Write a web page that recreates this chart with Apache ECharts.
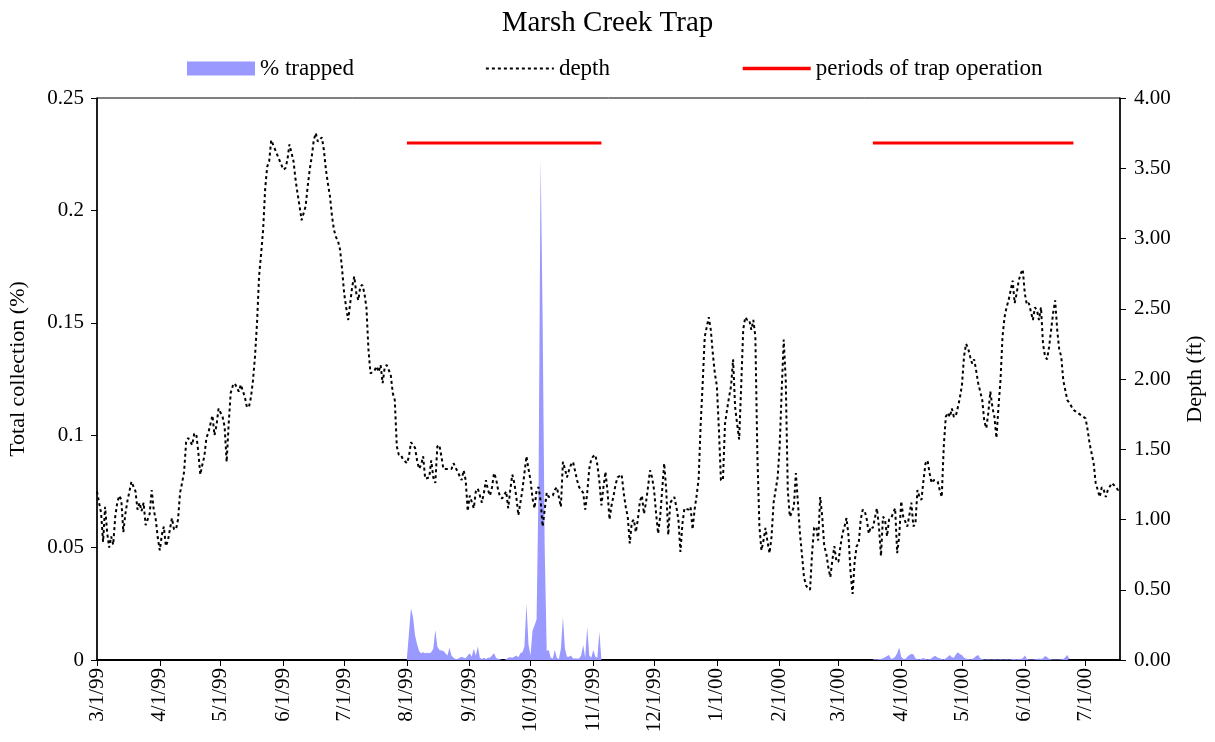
<!DOCTYPE html>
<html>
<head>
<meta charset="utf-8">
<title>Marsh Creek Trap</title>
<script src="https://cdn.jsdelivr.net/npm/echarts@6/dist/echarts.min.js"></script>
<style>
  html, body { margin: 0; padding: 0; background: #fff; }
  #chart { width: 1215px; height: 742px; }
</style>
</head>
<body>
<div id="chart"></div>
<script>
// Day counts below are days after 1 March 1999.
const START = Date.UTC(1999, 2, 1);
const DAY = 86400000;
const END_DAY = 505;

// Month-start tick positions on the date axis
const monthTicks = [
  '1999-03-01', '1999-04-01', '1999-05-01', '1999-06-01', '1999-07-01', '1999-08-01',
  '1999-09-01', '1999-10-01', '1999-11-01', '1999-12-01', '2000-01-01', '2000-02-01',
  '2000-03-01', '2000-04-01', '2000-05-01', '2000-06-01', '2000-07-01'
];

// Water depth (ft): [day, depth]
const depthReadings = [
  [0,1.20],[1,1.12],[2,1.05],[3,0.84],[4,1.09],[5,0.91],[6,0.80],[7,0.88],[8,0.82],[9,1.02],
  [10,1.12],[11,1.17],[12,1.14],[13,0.91],[14,1.04],[15,1.13],[17,1.27],[19,1.20],[20,1.07],
  [21,1.12],[22,1.06],[23,1.12],[24,0.96],[26,1.04],[27,1.21],[28,1.07],[29,1.00],[30,0.87],
  [31,0.78],[32,0.89],[33,0.95],[34,0.81],[35,0.85],[36,0.93],[37,1.01],[38,0.93],[39,0.93],
  [40,1.00],[41,1.19],[42,1.26],[43,1.34],[44,1.55],[45,1.58],[47,1.53],[48,1.61],[49,1.61],
  [50,1.48],[51,1.32],[52,1.39],[53,1.45],[54,1.58],[55,1.62],[56,1.68],[57,1.74],[58,1.60],
  [59,1.67],[60,1.79],[62,1.73],[63,1.66],[64,1.41],[65,1.68],[66,1.90],[67,1.95],[68,1.97],
  [70,1.91],[71,1.96],[73,1.87],[74,1.80],[75,1.80],[76,1.87],[77,1.99],[78,2.16],[79,2.40],
  [80,2.73],[81,2.89],[82,3.06],[83,3.35],[84,3.51],[85,3.55],[86,3.70],[92,3.49],[93,3.50],
  [94,3.56],[95,3.67],[96,3.61],[97,3.55],[98,3.42],[99,3.32],[100,3.23],[101,3.13],[103,3.23],
  [104,3.37],[105,3.49],[106,3.58],[107,3.70],[108,3.75],[109,3.69],[111,3.72],[112,3.63],
  [113,3.49],[114,3.39],[115,3.30],[116,3.16],[117,3.06],[118,3.01],[119,2.98],[120,2.92],
  [121,2.78],[122,2.61],[123,2.51],[124,2.42],[125,2.54],[126,2.66],[127,2.73],[128,2.61],
  [129,2.56],[130,2.66],[131,2.67],[132,2.61],[133,2.51],[134,2.21],[135,2.04],[137,2.06],
  [138,2.09],[139,2.05],[140,2.10],[141,1.97],[142,2.08],[143,2.10],[145,2.03],[146,1.90],
  [147,1.85],[148,1.52],[149,1.46],[150,1.46],[151,1.43],[153,1.40],[154,1.45],[155,1.55],
  [157,1.51],[158,1.42],[159,1.36],[160,1.39],[161,1.45],[162,1.29],[164,1.30],[165,1.42],
  [166,1.30],[167,1.26],[168,1.52],[169,1.53],[170,1.45],[171,1.36],[173,1.36],[175,1.36],
  [176,1.40],[178,1.34],[180,1.28],[181,1.35],[182,1.28],[183,1.06],[184,1.17],[186,1.08],
  [187,1.20],[188,1.22],[190,1.12],[191,1.19],[192,1.28],[193,1.21],[194,1.17],[195,1.23],
  [196,1.33],[197,1.29],[198,1.21],[199,1.16],[200,1.15],[202,1.20],[203,1.08],[204,1.21],
  [205,1.32],[206,1.26],[207,1.16],[208,1.03],[209,1.12],[210,1.21],[212,1.45],[213,1.36],
  [214,1.28],[215,1.15],[216,1.08],[217,1.21],[218,1.23],[219,1.13],[220,0.95],[221,1.07],
  [222,1.19],[223,1.16],[225,1.17],[226,1.21],[227,1.23],[228,1.16],[229,1.09],[230,1.41],
  [231,1.36],[232,1.30],[233,1.35],[234,1.39],[235,1.41],[237,1.28],[238,1.23],[240,1.19],
  [241,1.07],[242,1.19],[243,1.36],[244,1.43],[245,1.45],[246,1.46],[247,1.39],[248,1.27],
  [249,1.10],[250,1.23],[251,1.34],[252,1.20],[253,1.00],[254,1.10],[255,1.17],[256,1.25],
  [257,1.30],[259,1.32],[260,1.19],[261,1.09],[262,1.02],[263,0.83],[264,0.98],[265,1.00],
  [266,0.91],[267,1.00],[268,1.13],[269,1.17],[270,1.04],[271,1.12],[272,1.23],[273,1.35],
  [274,1.30],[275,1.21],[276,1.04],[277,0.90],[278,1.02],[279,1.21],[280,1.40],[281,1.21],
  [282,0.89],[283,1.12],[285,1.16],[286,1.09],[287,1.00],[288,0.77],[289,0.97],[290,1.08],
  [292,1.07],[293,1.09],[294,0.93],[295,1.07],[296,1.17],[297,1.29],[298,1.68],[299,1.97],
  [300,2.30],[301,2.37],[302,2.44],[303,2.35],[304,2.18],[305,2.04],[306,1.95],[307,1.64],
  [308,1.28],[309,1.28],[310,1.68],[311,1.78],[312,1.87],[313,1.95],[314,2.14],[315,1.80],
  [316,1.68],[317,1.57],[318,1.95],[319,2.35],[320,2.44],[321,2.42],[322,2.42],[323,2.35],
  [324,2.42],[325,2.30],[326,1.45],[327,0.95],[328,0.78],[329,0.85],[330,0.94],[331,0.84],
  [332,0.76],[333,0.88],[334,1.12],[335,1.21],[336,1.30],[337,1.52],[338,1.92],[339,2.28],
  [340,1.99],[341,1.21],[342,1.02],[343,1.05],[344,1.09],[345,1.33],[346,1.12],[347,0.90],
  [348,0.75],[349,0.59],[350,0.53],[351,0.51],[352,0.50],[353,0.76],[354,0.94],[355,0.95],
  [356,0.85],[357,1.16],[358,1.02],[359,0.81],[360,0.76],[361,0.66],[362,0.59],[363,0.71],
  [364,0.81],[365,0.70],[366,0.70],[367,0.81],[368,0.90],[369,0.95],[370,1.01],[371,0.88],
  [372,0.62],[373,0.47],[374,0.70],[375,0.81],[376,0.83],[377,1.00],[378,1.07],[379,1.06],
  [380,1.00],[381,0.90],[382,0.95],[383,0.94],[384,1.01],[385,1.08],[386,0.95],[387,0.74],
  [388,1.02],[389,1.00],[390,0.88],[391,1.00],[392,1.01],[394,1.08],[395,0.76],[396,0.88],
  [397,1.13],[398,1.02],[400,0.95],[401,1.03],[402,1.12],[403,0.95],[404,0.97],[405,1.21],
  [406,1.16],[407,1.14],[408,1.28],[409,1.40],[410,1.42],[411,1.33],[412,1.26],[413,1.28],
  [414,1.28],[415,1.27],[416,1.21],[417,1.16],[418,1.52],[419,1.73],[420,1.76],[421,1.73],
  [422,1.79],[423,1.73],[424,1.74],[425,1.80],[426,1.87],[427,1.96],[428,2.16],[429,2.25],
  [430,2.22],[431,2.16],[432,2.11],[433,2.14],[434,2.06],[435,1.97],[437,1.85],[438,1.70],
  [439,1.65],[440,1.76],[441,1.91],[442,1.80],[443,1.73],[444,1.58],[445,1.80],[446,1.99],
  [447,2.30],[448,2.44],[449,2.51],[450,2.56],[451,2.63],[452,2.70],[453,2.54],[454,2.61],
  [455,2.70],[456,2.75],[457,2.78],[458,2.61],[459,2.53],[460,2.54],[462,2.42],[463,2.51],
  [464,2.49],[465,2.42],[466,2.51],[467,2.25],[468,2.16],[469,2.14],[470,2.23],[471,2.35],
  [472,2.47],[473,2.56],[474,2.35],[475,2.21],[476,2.16],[477,1.99],[478,1.92],[479,1.85],
  [480,1.83],[482,1.78],[484,1.76],[486,1.74],[488,1.72],[489,1.64],[490,1.54],[491,1.47],
  [492,1.40],[493,1.26],[494,1.21],[495,1.16],[496,1.23],[497,1.21],[498,1.16],[499,1.21],
  [501,1.26],[503,1.23],[504,1.21],[505,1.21]
];

// Daily % trapped, first trapping period (starts day 153 = 1 Aug 1999)
const trap1StartDay = 153;
const trapped1 = [
  0.001, 0.012, 0.023, 0.019, 0.011, 0.007, 0.004, 0.003, 0.0035, 0.003,
  0.0032, 0.003, 0.0035, 0.005, 0.0133, 0.006, 0.0045, 0.0042, 0.004, 0.003,
  0.002, 0.0055, 0.002, 0.001, 0.0005, 0.0005, 0.001, 0.0015, 0.001, 0.0008,
  0.002, 0.003, 0.0015, 0.005, 0.002, 0.006, 0.001, 0.0005, 0.001, 0.0005,
  0.001, 0.001, 0.002, 0.003, 0.001, 0.0005, 0.0003, 0, 0, 0.0005,
  0.001, 0.0012, 0.001, 0.0015, 0.002, 0.0012, 0.003, 0.0035, 0.006, 0.025,
  0.007, 0.002, 0.013, 0.0155, 0.018, 0.08, 0.223, 0.15, 0.05, 0.004,
  0.0044, 0.001, 0.0007, 0.0044, 0.001, 0.0003, 0.005, 0.019, 0.005, 0.0015,
  0.0015, 0.002, 0.0007, 0.0007, 0.0007, 0.0007, 0.002, 0.0067, 0.001, 0.0148,
  0.002, 0.001, 0.0044, 0.0015, 0.001, 0.0126, 0
];

// Daily % trapped, second trapping period (starts day 383 = 18 Mar 2000)
const trap2StartDay = 383;
const trapped2 = [
  0.0002, 0.0003, 0.0003, 0.0004, 0.0005, 0.0008, 0.0012, 0.0018, 0.0022, 0.0005,
  0.0008, 0.0015, 0.003, 0.0056, 0.0015, 0.0006, 0.0004, 0.0015, 0.0022, 0.0027,
  0.0026, 0.0008, 0.0004, 0.0003, 0.0006, 0.0009, 0.0004, 0.0003, 0.0004, 0.0008,
  0.0016, 0.0018, 0.001, 0.0008, 0.0004, 0.0003, 0.0007, 0.0015, 0.0022, 0.0012,
  0.001, 0.0025, 0.0034, 0.0026, 0.0022, 0.001, 0.0006, 0.0004, 0.0003, 0.0004,
  0.001, 0.0018, 0.0022, 0.0008, 0.0004, 0.0002, 0.0002, 0.0003, 0.0002, 0.0002,
  0.0003, 0.0002, 0.0002, 0.0003, 0.0002, 0.0002, 0.0003, 0.0002, 0.0002, 0.0006,
  0.0005, 0.0003, 0.0006, 0.0004, 0.0008, 0.002, 0.0006, 0.0002, 0.0002, 0.0002,
  0.0003, 0.0005, 0.0007, 0.0004, 0.0008, 0.0018, 0.0012, 0.0006, 0.0003, 0.0002,
  0.0002, 0.0002, 0.0002, 0.0003, 0.0005, 0.0012, 0.0022, 0.0005
];

// Periods of trap operation: [from, to], drawn at a fixed level on the left axis
const trapPeriods = [['1999-08-01', '1999-11-05'], ['2000-03-18', '2000-06-25']];
const trapPeriodLevel = 0.23;

const FONT = '"Liberation Serif", "Times New Roman", Times, serif';
const BLUE = '#9999ff';

const toTime = d => START + d * DAY;
const isoTime = s => Date.parse(s + 'T00:00:00Z');

const depthData = depthReadings.map(([d, v]) => [toTime(d), v]);
const trapSeries = (startDay, vals) => vals.map((v, i) => [toTime(startDay + i), v]);
const periodData = [];
trapPeriods.forEach(([a, b], i) => {
  if (i > 0) periodData.push([isoTime(a) - DAY, '-']);
  periodData.push([isoTime(a), trapPeriodLevel], [isoTime(b), trapPeriodLevel]);
});

const monthTimes = monthTicks.map(isoTime);
const fmtDate = t => {
  const d = new Date(t);
  return (d.getUTCMonth() + 1) + '/' + d.getUTCDate() + '/' + String(d.getUTCFullYear()).slice(2);
};

const axisText = { color: '#000', fontFamily: FONT, fontSize: 21 };
const nameText = { fontFamily: FONT, fontSize: 22, color: '#000' };

const chart = echarts.init(document.getElementById('chart'), null, { renderer: 'canvas' });

const areaSeries = (data) => ({
  name: '% trapped',
  type: 'line',
  yAxisIndex: 0,
  data,
  symbol: 'none',
  color: BLUE,
  lineStyle: { width: 0, color: BLUE },
  areaStyle: { color: BLUE, opacity: 1 },
  z: 1,
  silent: true
});

chart.setOption({
  animation: false,
  backgroundColor: '#fff',
  title: {
    text: 'Marsh Creek Trap',
    left: 'center',
    top: 4,
    textStyle: { fontFamily: FONT, fontSize: 29, fontWeight: 'normal', color: '#000' }
  },
  legend: {
    left: 182,
    top: 52,
    itemWidth: 68,
    itemHeight: 14,
    itemGap: 131,
    textStyle: { fontFamily: FONT, fontSize: 23, color: '#000' },
    data: [
      { name: '% trapped', icon: 'rect', itemStyle: { color: BLUE } },
      // line-only keys: the marker dot is hidden, the line stays
      { name: 'depth', itemStyle: { opacity: 0 } },
      { name: 'periods of trap operation', itemStyle: { opacity: 0 }, lineStyle: { width: 3.5, color: '#ff0000' } }
    ]
  },
  grid: {
    left: 97, right: 95, top: 98, bottom: 82,
    outerBoundsMode: 'none',
    show: true, borderColor: '#000', borderWidth: 1, backgroundColor: '#fff'
  },
  // Dates are plotted as millisecond timestamps on a linear axis with month-start ticks
  xAxis: {
    type: 'value',
    min: START,
    max: toTime(END_DAY),
    axisLine: { lineStyle: { color: '#000', width: 2 } },
    axisTick: { show: true, length: 6, inside: false, lineStyle: { color: '#000', width: 1 }, customValues: monthTimes },
    axisLabel: Object.assign({}, axisText, {
      customValues: monthTimes,
      rotate: 90,
      margin: 8,
      formatter: fmtDate
    }),
    splitLine: { show: false }
  },
  yAxis: [
    {
      type: 'value',
      min: 0, max: 0.25, interval: 0.05,
      name: 'Total collection (%)',
      nameLocation: 'middle',
      nameRotate: 90,
      nameGap: 68,
      nameTextStyle: Object.assign({}, nameText, { padding: [0, 0, 0, 20] }),
      axisLine: { show: true, lineStyle: { color: '#000', width: 1.5 } },
      axisTick: { show: true, length: 6, lineStyle: { color: '#000' } },
      axisLabel: Object.assign({}, axisText, { margin: 13, formatter: v => String(+v.toFixed(2)) }),
      splitLine: { show: false }
    },
    {
      type: 'value',
      position: 'right',
      min: 0, max: 4, interval: 0.5,
      name: 'Depth (ft)',
      nameLocation: 'middle',
      nameRotate: 90,
      nameGap: 64,
      nameTextStyle: nameText,
      axisLine: { show: true, lineStyle: { color: '#000', width: 1.5 } },
      axisTick: { show: true, length: 6, lineStyle: { color: '#000' } },
      axisLabel: Object.assign({}, axisText, { margin: 14, formatter: v => v.toFixed(2) }),
      splitLine: { show: false }
    }
  ],
  series: [
    areaSeries(trapSeries(trap1StartDay, trapped1)),
    areaSeries(trapSeries(trap2StartDay, trapped2)),
    {
      name: 'depth',
      type: 'line',
      yAxisIndex: 1,
      data: depthData,
      symbol: 'none',
      color: '#000',
      lineStyle: { color: '#000', width: 2, type: [3, 3] },
      z: 3,
      silent: true
    },
    {
      name: 'periods of trap operation',
      type: 'line',
      yAxisIndex: 0,
      data: periodData,
      symbol: 'none',
      color: '#ff0000',
      connectNulls: false,
      lineStyle: { color: '#ff0000', width: 3 },
      z: 4,
      silent: true
    }
  ]
});
</script>
</body>
</html>
